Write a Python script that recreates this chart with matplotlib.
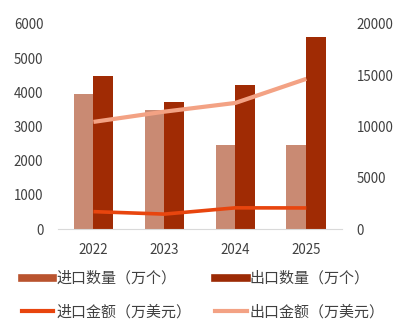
import matplotlib
matplotlib.use("Agg")
import matplotlib.pyplot as plt
from matplotlib.lines import Line2D
import numpy as np

plt.rcParams['font.family'] = ['Noto Sans CJK SC', 'DejaVu Sans']

years = ["2022", "2023", "2024", "2025"]
import_qty = [3950, 3480, 2450, 2450]        # 万个
export_qty = [4480, 3710, 4210, 5620]        # 万个
import_amt = [1700, 1460, 2070, 2060]        # 万美元
export_amt = [10450, 11450, 12300, 14650]    # 万美元
left_ticks = [0, 1000, 2000, 3000, 4000, 5000, 6000]
right_ticks = [0, 5000, 10000, 15000, 20000]

c_imp_bar = "#c98a73"
c_exp_bar = "#a02b04"
c_imp_line = "#e8450e"
c_exp_line = "#f3a284"
c_text = "#404040"

fig = plt.figure(figsize=(3.97, 3.24), dpi=100)
ax = fig.add_axes([0.146, 0.293, 0.715, 0.633])
ax2 = ax.twinx()

x = np.arange(len(years))
w = 0.28
ax.bar(x - w / 2, import_qty, w, color=c_imp_bar, zorder=2)
ax.bar(x + w / 2, export_qty, w, color=c_exp_bar, zorder=2)

ax2.plot(x, import_amt, color=c_imp_line, lw=2.6, solid_capstyle='butt')
ax2.plot(x, export_amt, color=c_exp_line, lw=3.0, solid_capstyle='butt')

ax.set_xlim(-0.5, 3.5)
ax.set_ylim(0, 6000)
ax2.set_ylim(0, 20000)
ax.set_xticks(x)
ax.set_xticklabels(years)
ax.set_yticks(left_ticks)
ax2.set_yticks(right_ticks)

for a in (ax, ax2):
    for s in a.spines.values():
        s.set_visible(False)
    a.tick_params(length=0, colors=c_text, labelsize=9.6)
ax.spines['bottom'].set_visible(True)
ax.spines['bottom'].set_color('#d9d9d9')
ax.tick_params(axis='y', pad=10.5)
ax2.tick_params(axis='y', pad=10.5)
ax.tick_params(axis='x', pad=10)

handles = [
    Line2D([], [], color="#b9532e", lw=5.5),
    Line2D([], [], color=c_imp_line, lw=3.0),
    Line2D([], [], color="#9c2a05", lw=5.5),
    Line2D([], [], color=c_exp_line, lw=3.0),
]
labels = ["进口数量（万个）", "进口金额（万美元）", "出口数量（万个）", "出口金额（万美元）"]
fig.legend(handles, labels, ncol=2, loc='upper left', bbox_to_anchor=(0.055, 0.162),
           frameon=False, fontsize=10.8, handlelength=2.1, handletextpad=0.2,
           columnspacing=1.6, labelspacing=1.25, labelcolor=c_text, borderaxespad=0,
           borderpad=0)

fig.savefig("out.png", dpi=100)
